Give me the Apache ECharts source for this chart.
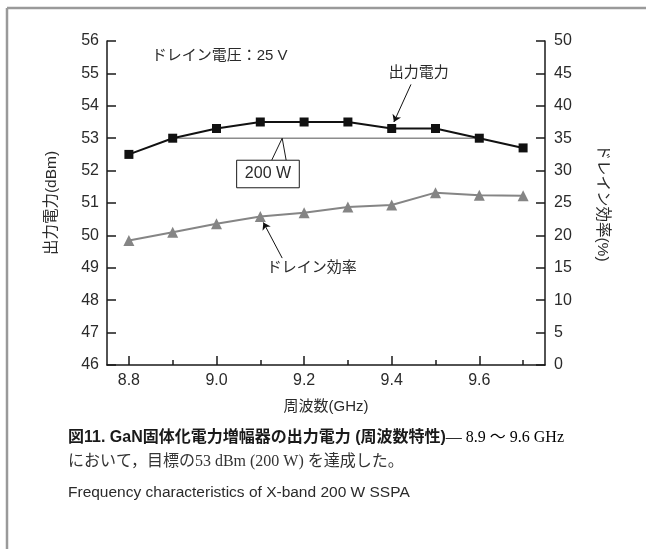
<!DOCTYPE html>
<html><head><meta charset="utf-8">
<script src="https://cdn.jsdelivr.net/npm/echarts@6/dist/echarts.min.js"></script>
<style>html,body{margin:0;padding:0;background:#fff}#c{width:646px;height:549px}</style>
</head><body><div id="c"></div>
<script>
const freq = [8.8, 8.9, 9.0, 9.1, 9.2, 9.3, 9.4, 9.5, 9.6, 9.7];
const outputPower = [52.5, 53.0, 53.3, 53.5, 53.5, 53.5, 53.3, 53.3, 53.0, 52.7];
const drainEff = [19.2, 20.5, 21.8, 22.9, 23.5, 24.4, 24.7, 26.6, 26.2, 26.1];
const targetFreq = [8.9, 9.6];
const targetPower = [53, 53];
const xMajorTicks = [8.8, 9.0, 9.2, 9.4, 9.6];
const xMinorTicks = [8.9, 9.1, 9.3, 9.5, 9.7];

const FONT = "'Liberation Sans', 'Noto Sans CJK JP', sans-serif";
const TXT = '#2a2a2a';
const chart = echarts.init(document.getElementById('c'), null, {renderer: 'canvas'});

const pair = (xs, ys) => xs.map((x, i) => [x, ys[i]]);
const axisLineStyle = {color: '#1a1a1a', width: 1.5};

const option = {
  animation: false,
  backgroundColor: '#fff',
  textStyle: {fontFamily: FONT},
  grid: {left: 107, right: 101, top: 41, bottom: 184, containLabel: false},
  xAxis: [{
    type: 'value', min: 8.75, max: 9.75, position: 'bottom',
    name: '周波数(GHz)', nameLocation: 'middle', nameGap: 34,
    nameTextStyle: {fontSize: 15, color: TXT, fontFamily: FONT},
    axisLine: {show: true, lineStyle: axisLineStyle},
    axisTick: {show: true, inside: true, length: 9, customValues: xMajorTicks, lineStyle: axisLineStyle},
    axisLabel: {show: true, customValues: xMajorTicks, fontSize: 16, color: TXT, margin: 8,
      formatter: v => v.toFixed(1)},
    splitLine: {show: false}
  }, {
    type: 'value', min: 8.75, max: 9.75, position: 'bottom', gridIndex: 0,
    axisLine: {show: false},
    axisTick: {show: true, inside: true, length: 5, customValues: xMinorTicks, lineStyle: axisLineStyle},
    axisLabel: {show: false},
    splitLine: {show: false}
  }],
  yAxis: [{
    type: 'value', min: 46, max: 56, interval: 1, position: 'left',
    name: '出力電力(dBm)', nameLocation: 'middle', nameGap: 48,
    nameTextStyle: {fontSize: 15.5, color: TXT, fontFamily: FONT},
    axisLine: {show: true, lineStyle: axisLineStyle},
    axisTick: {show: true, inside: true, length: 9, lineStyle: axisLineStyle},
    axisLabel: {fontSize: 16, color: TXT, margin: 8},
    splitLine: {show: false}
  }, {
    type: 'value', min: 0, max: 50, interval: 5, position: 'right',
    name: 'ドレイン効率(%)', nameLocation: 'middle', nameGap: 50, nameRotate: -90,
    nameTextStyle: {fontSize: 15.5, color: TXT, fontFamily: FONT},
    axisLine: {show: true, lineStyle: axisLineStyle},
    axisTick: {show: true, inside: true, length: 9, lineStyle: axisLineStyle},
    axisLabel: {fontSize: 16, color: TXT, margin: 9},
    splitLine: {show: false}
  }],
  series: [{
    name: '200 W', type: 'line', xAxisIndex: 0, yAxisIndex: 0,
    data: pair(targetFreq, targetPower), symbol: 'none',
    lineStyle: {color: '#8c8c8c', width: 1.5}, z: 1,
    markLine: {
      silent: true, symbol: ['none', 'none'], label: {show: false},
      lineStyle: {color: '#1a1a1a', width: 1, type: 'solid'},
      data: [
        [{coord: [9.126, 52.32]}, {coord: [9.15, 53]}],
        [{coord: [9.159, 52.32]}, {coord: [9.15, 53]}]
      ]
    }
  }, {
    name: '出力電力', type: 'line', xAxisIndex: 0, yAxisIndex: 0,
    data: pair(freq, outputPower), symbol: 'rect', symbolSize: 9,
    itemStyle: {color: '#111'}, lineStyle: {color: '#111', width: 2}, z: 3,
    markLine: {
      silent: true, symbol: ['none', 'arrow'], symbolSize: 7, label: {show: false},
      lineStyle: {color: '#111', width: 1, type: 'solid'},
      data: [[{coord: [9.444, 54.66]}, {coord: [9.405, 53.5]}]]
    }
  }, {
    name: 'ドレイン効率', type: 'line', xAxisIndex: 0, yAxisIndex: 1,
    data: pair(freq, drainEff), symbol: 'triangle', symbolSize: 11,
    itemStyle: {color: '#858585'}, lineStyle: {color: '#858585', width: 2}, z: 2,
    markLine: {
      silent: true, symbol: ['none', 'arrow'], symbolSize: 7, label: {show: false},
      lineStyle: {color: '#111', width: 1, type: 'solid'},
      data: [[{coord: [9.15, 16.5]}, {coord: [9.107, 22.0]}]]
    }
  }]
};
chart.setOption(option);

function px(x, y) { return chart.convertToPixel({xAxisIndex: 0, yAxisIndex: 0}, [x, y]); }
const pV = px(8.852, 55.53);
const pP = px(9.393, 55.03);
const bTL = px(9.046, 52.32);
const bBR = px(9.189, 51.47);
const pE = px(9.115, 48.99);

chart.setOption({
  graphic: [
    {type: 'line', shape: {x1: 7, y1: 8, x2: 646, y2: 8}, style: {stroke: '#9a9a9a', lineWidth: 2.5}},
    {type: 'line', shape: {x1: 7, y1: 8, x2: 7, y2: 549}, style: {stroke: '#9a9a9a', lineWidth: 2.5}},
    {type: 'text', x: pV[0], y: pV[1], style: {text: 'ドレイン電圧：25 V', font: '15px ' + FONT, fill: TXT, textVerticalAlign: 'middle'}},
    {type: 'text', x: pP[0], y: pP[1], style: {text: '出力電力', font: '15px ' + FONT, fill: TXT, textVerticalAlign: 'middle'}},
    {type: 'rect', shape: {x: bTL[0], y: bTL[1], width: bBR[0] - bTL[0], height: bBR[1] - bTL[1]},
      style: {fill: '#fff', stroke: '#1a1a1a', lineWidth: 1}, z: 10},
    {type: 'text', x: (bTL[0] + bBR[0]) / 2, y: (bTL[1] + bBR[1]) / 2, z: 11,
      style: {text: '200 W', font: '16px ' + FONT, fill: TXT, textAlign: 'center', textVerticalAlign: 'middle'}},
    {type: 'text', x: pE[0], y: pE[1], style: {text: 'ドレイン効率', font: '15px ' + FONT, fill: TXT, textVerticalAlign: 'middle'}},
    {type: 'text', x: 68, y: 438, style: {
      text: '{b|図11. GaN固体化電力増幅器の出力電力 (周波数特性)}{s|— 8.9 ～ 9.6 GHz}',
      textVerticalAlign: 'middle',
      rich: {
        b: {fontFamily: FONT, fontWeight: 'bold', fontSize: 16, fill: '#1a1a1a', color: '#1a1a1a'},
        s: {fontFamily: "'Liberation Serif', 'Noto Sans CJK JP', serif", fontSize: 16, color: '#333'}
      }}},
    {type: 'text', x: 68, y: 462, style: {
      text: 'において，目標の53 dBm (200 W) を達成した。',
      font: "16px 'Liberation Serif', 'Noto Sans CJK JP', serif", fill: '#333', textVerticalAlign: 'middle'}},
    {type: 'text', x: 68, y: 493, style: {
      text: 'Frequency characteristics of X-band 200 W SSPA',
      font: '15.5px ' + FONT, fill: '#2a2a2a', textVerticalAlign: 'middle'}}
  ]
});
</script></body></html>
